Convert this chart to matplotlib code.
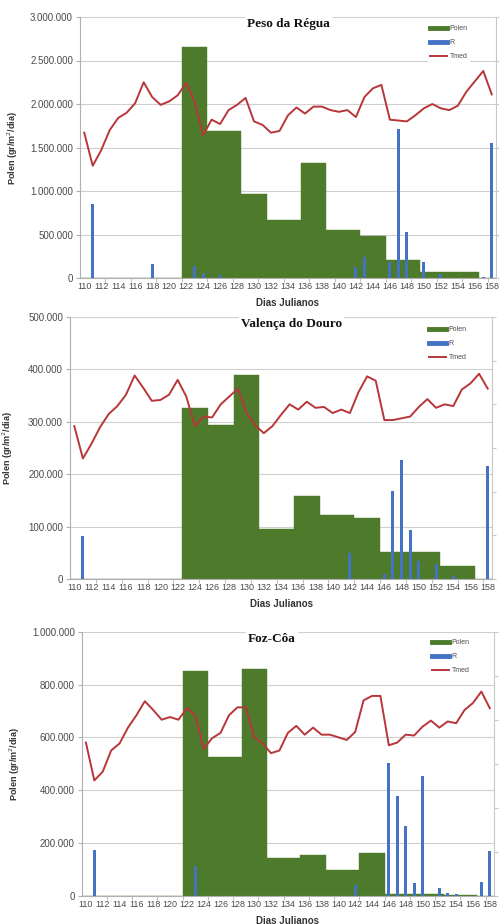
import matplotlib
matplotlib.use("Agg")
import matplotlib.pyplot as plt
from matplotlib.lines import Line2D
import numpy as np

# julian days (categorical axis)
days = list(range(110, 159))

# ---- Peso da Régua ----
polen_regua = [0] * 12 + [2650000] * 3 + [1690000] * 4 + [966000] * 3 + [667000] * 4 \
    + [1325000] * 3 + [550000] * 4 + [480000] * 3 + [207000] * 4 + [65000] * 7 + [0] * 2
r_days_regua = [111, 118, 123, 124, 126, 142, 143, 146, 147, 148, 150, 152, 157, 158]
r_vals_regua = [850000, 160000, 140000, 60000, 35000, 125000, 245000, 180000, 1710000,
                530000, 180000, 50000, 8000, 1550000]
tmed_regua = [16.7, 12.9, 14.7, 17.0, 18.4, 19.0, 20.1, 22.5, 20.8, 19.9, 20.3, 21.0, 22.4,
              20.3, 16.4, 18.2, 17.7, 19.3, 19.9, 20.7, 18.0, 17.6, 16.7, 16.9, 18.7, 19.6,
              18.9, 19.7, 19.7, 19.3, 19.1, 19.3, 18.5, 20.8, 21.8, 22.2, 18.2, 18.1, 18.0,
              18.7, 19.5, 20.0, 19.5, 19.3, 19.8, 21.4, 22.6, 23.8, 21.1]

# ---- Valença do Douro ----
polen_valenca = [0] * 13 + [327000] * 3 + [294000] * 3 + [389000] * 3 + [95000] * 4 \
    + [159000] * 3 + [122000] * 4 + [116000] * 3 + [52000] * 7 + [25000] * 4 + [0] * 2
r_days_valenca = [111, 142, 146, 147, 148, 149, 150, 152, 154, 158]
r_vals_valenca = [82000, 49000, 10000, 168000, 227000, 93000, 35000, 29000, 6000, 216000]
tmed_valenca = [17.5, 13.8, 15.5, 17.4, 18.9, 19.8, 21.1, 23.3, 21.9, 20.4, 20.5, 21.1, 22.8,
                20.9, 17.5, 18.6, 18.5, 20.0, 20.9, 21.8, 19.0, 17.6, 16.7, 17.5, 18.8, 20.0,
                19.4, 20.3, 19.6, 19.7, 19.0, 19.4, 19.0, 21.4, 23.2, 22.7, 18.2, 18.2, 18.4,
                18.6, 19.7, 20.6, 19.6, 20.0, 19.8, 21.7, 22.4, 23.5, 21.8]

# ---- Foz-Côa ----
polen_foz = [0] * 12 + [852000] * 3 + [524000] * 4 + [858000] * 3 + [144000] * 4 \
    + [154000] * 3 + [97000] * 4 + [163000] * 3 + [8000] * 7 + [3000] * 4 + [0] * 2
r_days_foz = [111, 123, 142, 146, 147, 148, 149, 150, 152, 153, 154, 157, 158]
r_vals_foz = [173000, 112000, 40000, 502000, 378000, 264000, 47000, 455000, 28000, 11000,
              5000, 53000, 169000]
tmed_foz = [17.4, 13.1, 14.1, 16.5, 17.3, 19.1, 20.5, 22.1, 21.1, 20.0, 20.3, 20.0, 21.3,
            20.5, 16.7, 17.9, 18.5, 20.5, 21.4, 21.4, 18.0, 17.3, 16.2, 16.5, 18.5, 19.3,
            18.3, 19.1, 18.3, 18.3, 18.0, 17.7, 18.6, 22.2, 22.7, 22.7, 17.1, 17.4, 18.3,
            18.2, 19.2, 19.9, 19.1, 19.8, 19.6, 21.1, 21.9, 23.2, 21.3]

GREEN = "#4D7B2B"
BLUE = "#4472C4"
RED = "#B8363A"
GRID = "#D0D0D0"
TXT = "#4A4A4A"

W, H = 499, 924
fig = plt.figure(figsize=(W / 100, H / 100), dpi=100)
plt.rcParams["font.family"] = ["Liberation Sans", "DejaVu Sans"]


def fmt(v):
    return "0" if v == 0 else f"{int(v):,}".replace(",", ".")


def panel(box, polen, r_days, r_vals, tmed, ymax, ystep, title, title_x, leg_xy, ylab_x):
    x0, y0, x1, y1 = box
    ax = fig.add_axes([x0 / W, 1 - y1 / H, (x1 - x0) / W, (y1 - y0) / H])
    idx = np.arange(len(days))
    ax.bar(idx, polen, width=1.0, color=GREEN, edgecolor=GREEN, linewidth=0.3, zorder=2)
    ri = [days.index(d) for d in r_days]
    ax.bar(ri, r_vals, width=0.35, color=BLUE, linewidth=0, zorder=3)

    ax.set_xlim(-0.5, len(days) - 0.5)
    ax.set_ylim(0, ymax)
    yt = np.arange(0, ymax + 1, ystep)
    ax.set_yticks(yt)
    ax.set_yticklabels([fmt(v) for v in yt])
    ax.set_xticks(idx[::2])
    ax.set_xticklabels([str(d) for d in days[::2]])
    ax.set_xticks(np.arange(2.5, len(days), 3), minor=True)
    ax.tick_params(axis="x", which="major", length=0, labelsize=6.5, labelcolor=TXT, pad=3)
    ax.tick_params(axis="x", which="minor", length=3, color="#B0B0B0")
    ax.tick_params(axis="y", length=3, color="#B0B0B0", labelsize=7, labelcolor=TXT, pad=2)
    ax.grid(axis="y", color=GRID, linewidth=0.8, zorder=0)
    ax.set_axisbelow(True)
    for s in ["top", "right"]:
        ax.spines[s].set_visible(False)
    for s in ["left", "bottom"]:
        ax.spines[s].set_color("#B0B0B0")
        ax.spines[s].set_linewidth(0.8)

    ax.set_ylabel("Polen (gr/m$^2$/dia)", fontsize=6.5, fontweight="bold", color="#333333")
    ax.yaxis.set_label_coords((ylab_x - x0) / (x1 - x0), 0.5)
    ax.set_xlabel("Dias Julianos", fontsize=7, fontweight="bold", color="#333333", labelpad=5)

    ax2 = ax.twinx()
    ax2.plot(idx, tmed, color=RED, linewidth=1.4, zorder=4)
    ax2.set_ylim(0, 30)
    ax2.set_yticks(np.arange(0, 31, 5))
    ax2.tick_params(axis="y", length=3, color="#C8C8C8", labelright=False)
    for s in ["top", "left", "bottom"]:
        ax2.spines[s].set_visible(False)
    ax2.spines["right"].set_color("#C8C8C8")
    ax2.spines["right"].set_linewidth(0.8)

    ax2.text((title_x - x0) / (x1 - x0), 1 - 7 / (y1 - y0), title, transform=ax2.transAxes,
             ha="left", va="center", fontsize=9.5, fontweight="bold",
             family=["Liberation Serif", "DejaVu Serif"], color="#111111",
             bbox=dict(facecolor="white", edgecolor="none", pad=1.5), zorder=10)

    handles = [Line2D([0], [0], color=GREEN, lw=3.5),
               Line2D([0], [0], color=BLUE, lw=3.5),
               Line2D([0], [0], color=RED, lw=1.4)]
    leg = ax2.legend(handles, ["Polen", "R", "Tmed"], loc="upper left",
                     bbox_to_anchor=(leg_xy[0] / W, 1 - leg_xy[1] / H),
                     bbox_transform=fig.transFigure, fontsize=5, frameon=True,
                     fancybox=False, framealpha=1, facecolor="white", edgecolor="none",
                     handlelength=2.5, handletextpad=0.3, labelspacing=1.0,
                     borderpad=0.3, borderaxespad=0)
    for t in leg.get_texts():
        t.set_color(TXT)
    leg.set_zorder(10)
    return ax


panel((80, 17, 496, 278), polen_regua, r_days_regua, r_vals_regua, tmed_regua,
      3000000, 500000, "Peso da Régua", 247, (428, 23), 20)
panel((70, 317, 492, 579), polen_valenca, r_days_valenca, r_vals_valenca, tmed_valenca,
      500000, 100000, "Valença do Douro", 241, (427, 324), 15)
panel((81.7, 631.7, 494, 895.7), polen_foz, r_days_foz, r_vals_foz, tmed_foz,
      1000000, 200000, "Foz-Côa", 248, (430, 637), 22)

fig.savefig("out.png", dpi=100)
